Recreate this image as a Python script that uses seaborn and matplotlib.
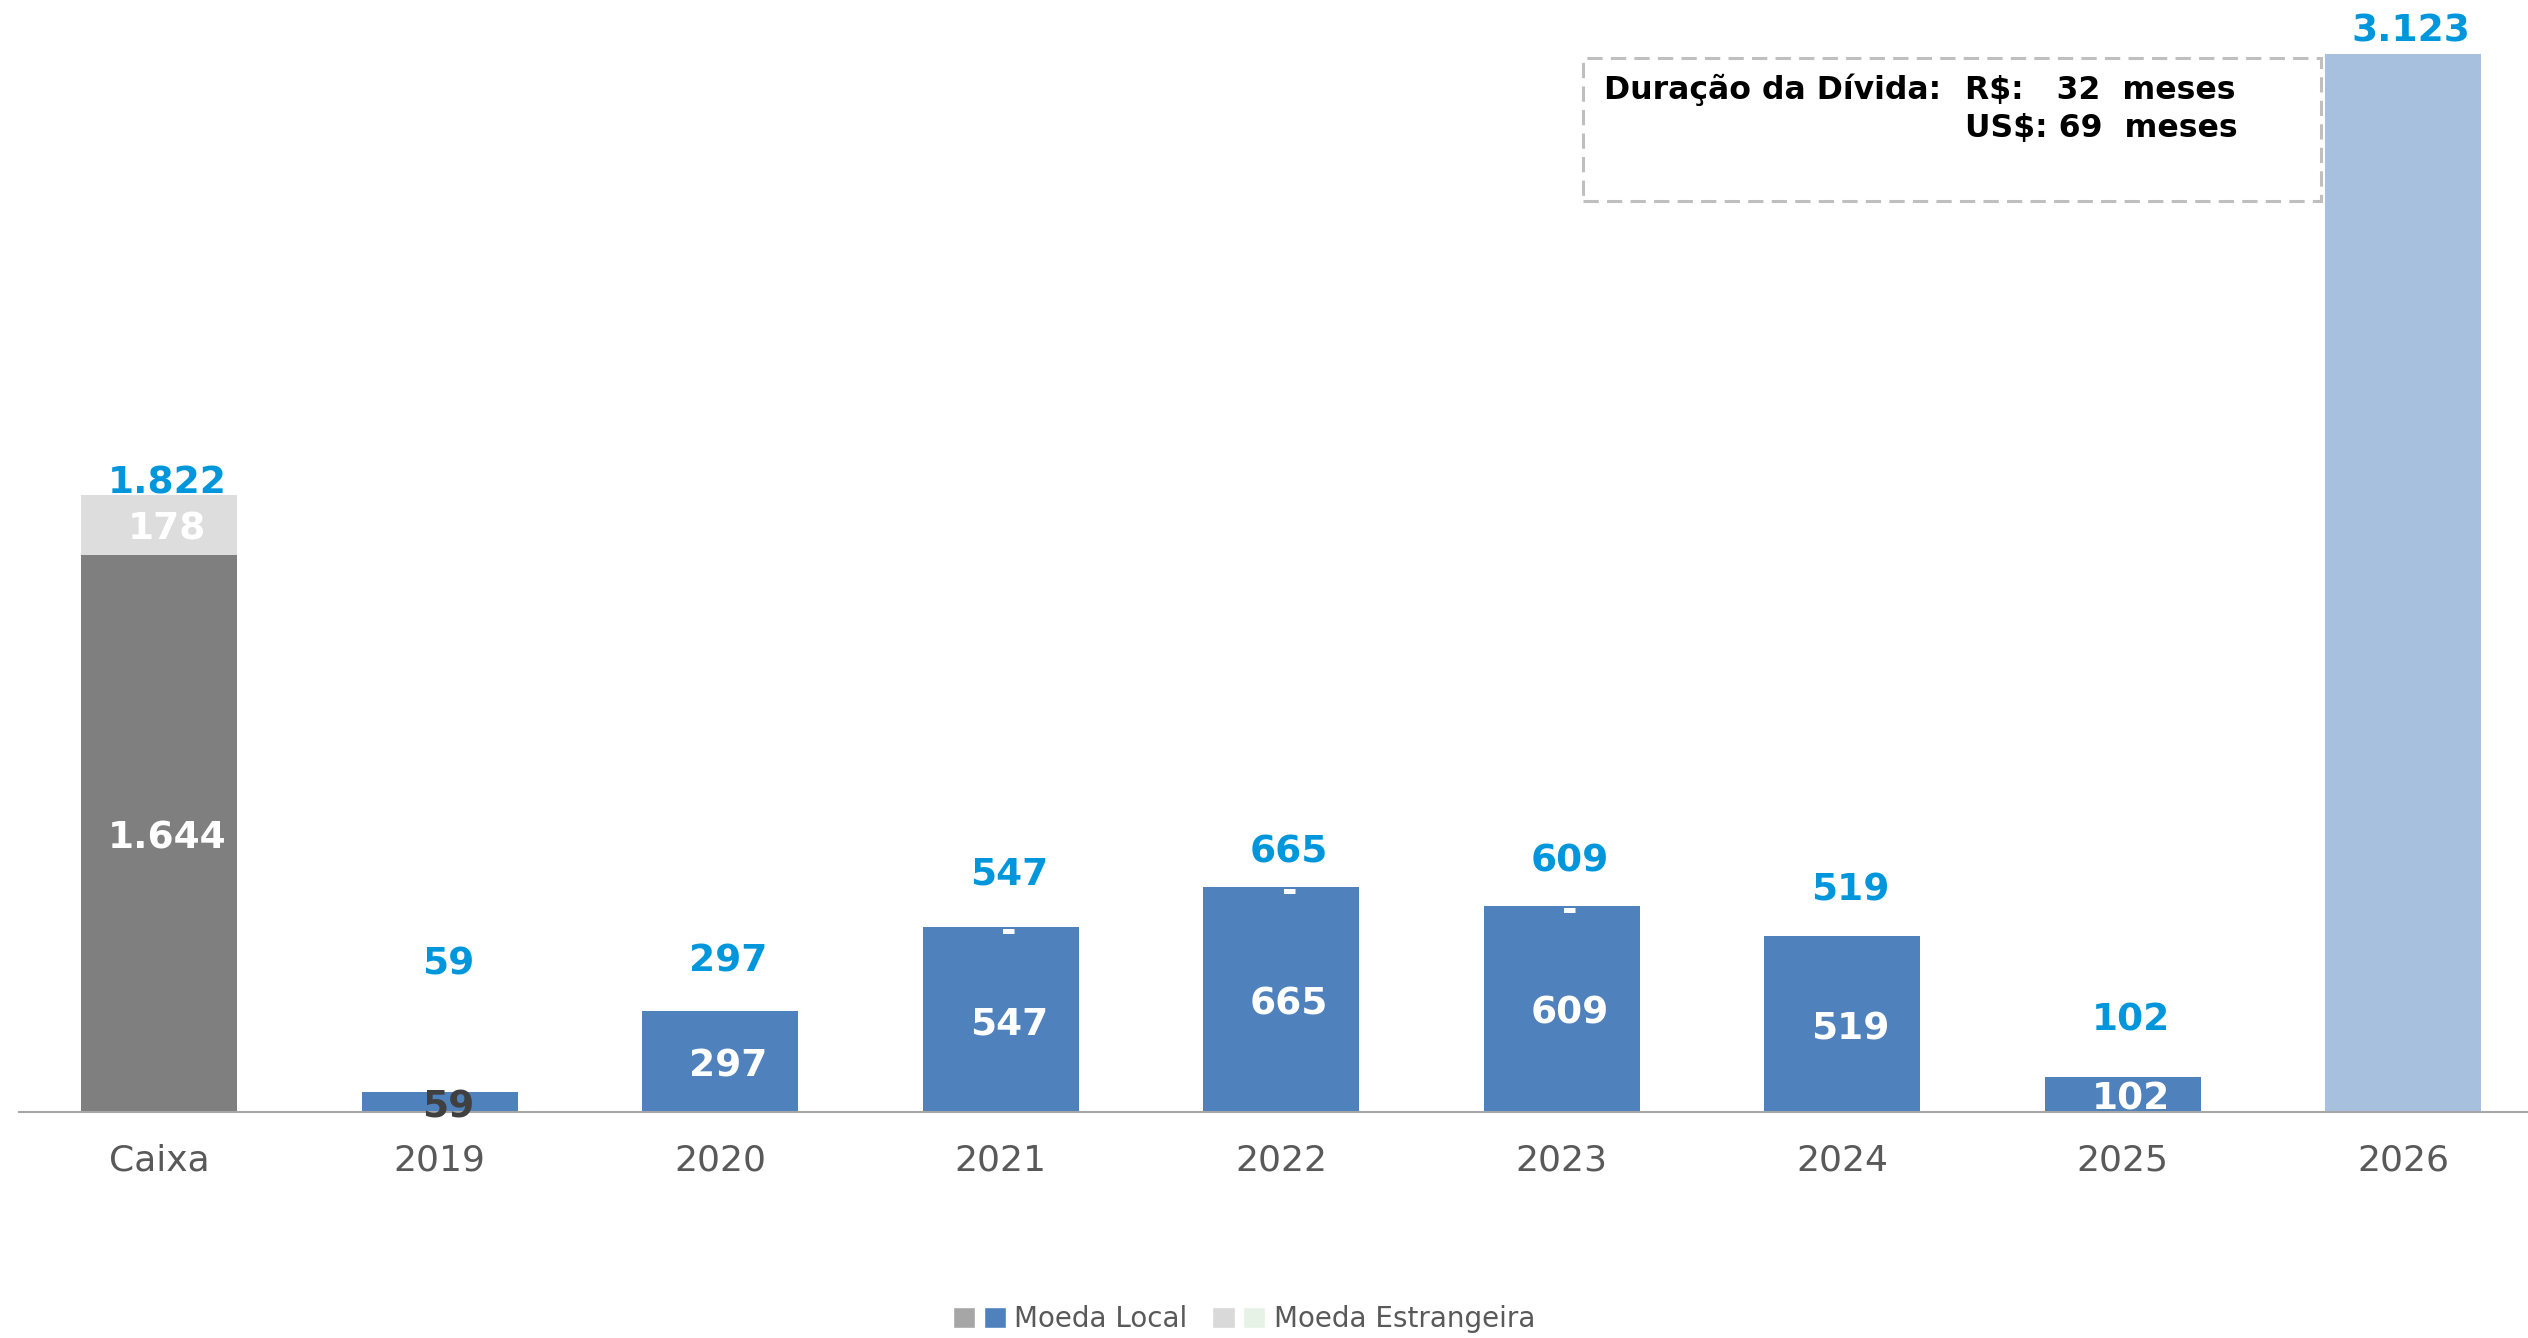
import matplotlib
matplotlib.use("Agg")
import matplotlib.pyplot as plt
import seaborn as sns
import pandas as pd
from matplotlib.patches import Rectangle, Patch
from matplotlib.legend_handler import HandlerTuple

# ---------------- data ----------------
categories = ["Caixa", "2019", "2020", "2021", "2022", "2023", "2024", "2025", "2026"]
moeda_local = [1644, 59, 297, 547, 665, 609, 519, 102, 0]
moeda_estrangeira = [178, 0, 0, 0, 0, 0, 0, 0, 3123]
total_labels = ["1.822", "59", "297", "547", "665", "609", "519", "102", "3.123"]
local_labels = ["1.644", "59", "297", "547", "665", "609", "519", "102", "-"]
estrangeira_labels = ["178", "", "", "-", "-", "-", "", "", ""]
legend_labels = ["Moeda Local", "Moeda Estrangeira"]
box_title = "Duração da Dívida:"
box_line1 = "R$:   32  meses"
box_line2 = "US$: 69  meses"

# ---------------- styles ----------------
local_colors = ["#7F7F7F"] + ["#4F81BD"] * 8
estr_colors = ["#DDDDDD"] + ["#4F81BD"] * 7 + ["#A7C0DE"]
local_label_colors = ["white", "#404040"] + ["white"] * 7
total_offsets_px = [11, 128, 50, 52, 34, 44, 46, 57, 22]
LABEL_BLUE = "#0096DB"
AXIS_GRAY = "#A6A6A6"

sns.set_style("white")
plt.rcParams["font.family"] = ["DejaVu Sans"]

W, H = 2528, 1338
DPI = 100
PT = 72 / DPI
fig = plt.figure(figsize=(W / DPI, H / DPI), dpi=DPI)
fig.patch.set_facecolor("white")

base_px = 1112
left_px = 19
cat_w_px = 280.5
ax = fig.add_axes([left_px / W, (H - base_px) / H, 9 * cat_w_px / W, base_px / H])

totals = [a + b for a, b in zip(moeda_local, moeda_estrangeira)]
df = pd.DataFrame({"cat": categories, "local": moeda_local, "total": totals})

sns.barplot(data=df, x="cat", y="total", hue="cat", order=categories, hue_order=categories,
            palette=dict(zip(categories, estr_colors)), dodge=False, width=0.557,
            saturation=1, legend=False, ax=ax, edgecolor="none", linewidth=0)
sns.barplot(data=df, x="cat", y="local", hue="cat", order=categories, hue_order=categories,
            palette=dict(zip(categories, local_colors)), dodge=False, width=0.557,
            saturation=1, legend=False, ax=ax, edgecolor="none", linewidth=0)

px_per_unit = 0.3388
ax.set_xlim(-0.5, 8.5)
ax.set_ylim(0, base_px / px_per_unit)
ax.set_xlabel("")
ax.set_ylabel("")
ax.set_yticks([])

for s in ["top", "right", "left"]:
    ax.spines[s].set_visible(False)
ax.spines["bottom"].set_color(AXIS_GRAY)
ax.spines["bottom"].set_linewidth(1.5)

ax.set_xticks(range(len(categories)))
ax.set_xticklabels(categories, fontsize=26, color="#595959")
ax.tick_params(axis="x", which="major", length=0, pad=23)
ax.set_xticks([i - 0.5 for i in range(len(categories) + 1)], minor=True)
ax.tick_params(axis="x", which="minor", length=9.4, width=1.5, color=AXIS_GRAY, direction="out")

num_fs = 27
dx = 8 * PT
dy_in = -5 * PT
for i in range(len(categories)):
    loc = moeda_local[i]
    est = moeda_estrangeira[i]
    ax.annotate(local_labels[i], (i, loc / 2), xytext=(dx, dy_in), textcoords="offset points",
                ha="center", va="center", fontsize=num_fs, fontweight="bold",
                color=local_label_colors[i], annotation_clip=False)
    if estrangeira_labels[i]:
        ax.annotate(estrangeira_labels[i], (i, loc + est / 2), xytext=(dx, dy_in),
                    textcoords="offset points", ha="center", va="center", fontsize=num_fs,
                    fontweight="bold", color="white", annotation_clip=False)
    ax.annotate(total_labels[i], (i, loc + est), xytext=(dx, total_offsets_px[i] * PT),
                textcoords="offset points", ha="center", va="center", fontsize=num_fs,
                fontweight="bold", color=LABEL_BLUE, annotation_clip=False)

# dashed info box
box = Rectangle((1583 / W, 1 - 201 / H), 738 / W, 143 / H, transform=fig.transFigure,
                fill=False, edgecolor="#BFBFBF", linewidth=2.2, linestyle=(0, (5, 2.7)))
fig.patches.append(box)
fig.text(1604 / W, 1 - 90 / H, box_title, ha="left", va="center", fontsize=22.7,
         fontweight="bold", color="black")
fig.text(1965 / W, 1 - 90 / H, box_line1, ha="left", va="center", fontsize=22.7,
         fontweight="bold", color="black")
fig.text(1965 / W, 1 - 128 / H, box_line2, ha="left", va="center", fontsize=22.7,
         fontweight="bold", color="black")

# legend
h_local = (Patch(facecolor="#A6A6A6"), Patch(facecolor="#4F81BD"))
h_estr = (Patch(facecolor="#D9D9D9"), Patch(facecolor="#E6F2E6"))
fig.legend([h_local, h_estr], legend_labels, handler_map={tuple: HandlerTuple(ndivide=None, pad=0.3)},
           loc="center", bbox_to_anchor=(1244 / W, 1 - 1319 / H), ncol=2, frameon=False,
           fontsize=20, labelcolor="#595959", handlelength=1.9, handleheight=0.8,
           handletextpad=0.3, columnspacing=0.9)

fig.savefig("out.png", dpi=DPI, facecolor="white")
